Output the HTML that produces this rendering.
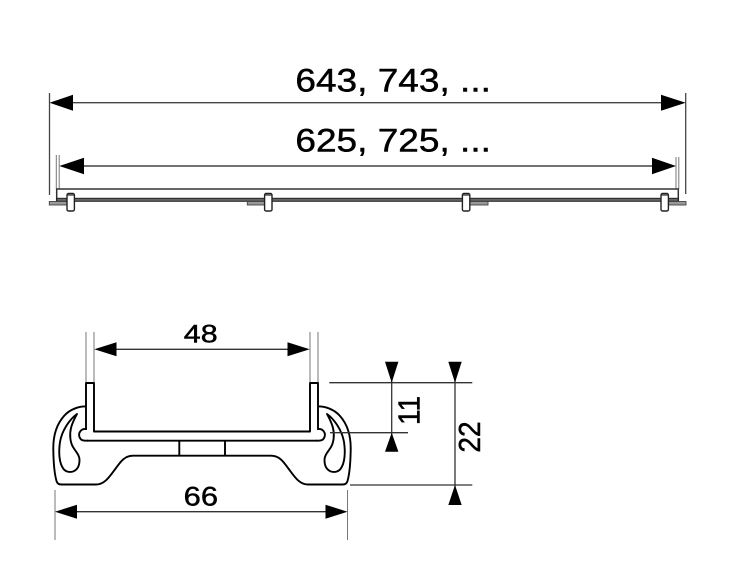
<!DOCTYPE html>
<html>
<head>
<meta charset="utf-8">
<style>
  html,body{margin:0;padding:0;background:#fff;}
  svg{display:block;}
  text{font-family:"Liberation Sans",Arial,sans-serif;fill:#000;stroke:#000;stroke-width:0.45;}
</style>
</head>
<body>
<svg width="734" height="580" viewBox="0 0 734 580" xmlns="http://www.w3.org/2000/svg">
  <rect x="0" y="0" width="734" height="580" fill="#fff"/>

  <!-- ===== TOP VIEW ===== -->
  <text x="295.4" y="91.5" font-size="32" textLength="195.5" lengthAdjust="spacingAndGlyphs">643, 743, ...</text>
  <text x="295.4" y="151.5" font-size="32" textLength="195.5" lengthAdjust="spacingAndGlyphs">625, 725, ...</text>

  <!-- outer extension lines -->
  <line x1="49.5" y1="93" x2="49.5" y2="195" stroke="#444" stroke-width="1.3"/>
  <line x1="685.7" y1="93" x2="685.7" y2="194" stroke="#444" stroke-width="1.3"/>
  <!-- inner extension lines -->
  <line x1="56.3" y1="155" x2="56.3" y2="189" stroke="#777" stroke-width="1"/>
  <line x1="59.2" y1="155" x2="59.2" y2="189" stroke="#777" stroke-width="1"/>
  <line x1="676" y1="157" x2="676" y2="189" stroke="#777" stroke-width="1"/>
  <line x1="678.8" y1="157" x2="678.8" y2="189" stroke="#777" stroke-width="1"/>

  <!-- dimension line 643 -->
  <line x1="60" y1="102.7" x2="675" y2="102.7" stroke="#444" stroke-width="1.4"/>
  <polygon points="49.5,102.7 73,94.7 73,110.7" fill="#000"/>
  <polygon points="685.7,102.7 661,94.7 661,110.7" fill="#000"/>

  <!-- dimension line 625 -->
  <line x1="70" y1="166" x2="665" y2="166" stroke="#444" stroke-width="1.4"/>
  <polygon points="59.3,166 84,157.7 84,174.3" fill="#000"/>
  <polygon points="676,166 652,157.7 652,174.3" fill="#000"/>

  <!-- cover plate -->
  <line x1="56.7" y1="189" x2="678.3" y2="189" stroke="#333" stroke-width="1.5"/>
  <line x1="56.7" y1="188.3" x2="56.7" y2="201" stroke="#333" stroke-width="1.5"/>
  <line x1="678.3" y1="188.3" x2="678.3" y2="201" stroke="#333" stroke-width="1.5"/>
  <rect x="56.7" y="198.3" width="621.6" height="3" fill="#666" stroke="#222" stroke-width="1"/>

  <!-- stubs -->
  <rect x="49.3" y="201.5" width="17.7" height="3.5" fill="#999" stroke="#444" stroke-width="0.9"/>
  <rect x="247.3" y="201.5" width="17.5" height="3.5" fill="#999" stroke="#444" stroke-width="0.9"/>
  <rect x="469.5" y="201.5" width="18.5" height="3.5" fill="#999" stroke="#444" stroke-width="0.9"/>
  <rect x="668.3" y="201.5" width="17.7" height="3.5" fill="#999" stroke="#444" stroke-width="0.9"/>

  <!-- clips -->
  <g fill="#fff" stroke="#222" stroke-width="1.4">
    <rect x="67" y="193.5" width="7.4" height="17.5" rx="1.5"/>
    <rect x="264.6" y="193.5" width="7.4" height="17.5" rx="1.5"/>
    <rect x="462.4" y="193.5" width="7.4" height="17.5" rx="1.5"/>
    <rect x="661" y="193.5" width="7.4" height="17.5" rx="1.5"/>
  </g>
  <g stroke="#444" stroke-width="1.4">
    <line x1="67.5" y1="195" x2="73.9" y2="195"/>
    <line x1="265.1" y1="195" x2="271.5" y2="195"/>
    <line x1="462.9" y1="195" x2="469.3" y2="195"/>
    <line x1="661.5" y1="195" x2="667.9" y2="195"/>
  </g>

  <!-- ===== SECTION VIEW ===== -->
  <text x="183.8" y="342.5" font-size="25" textLength="33.8" lengthAdjust="spacingAndGlyphs">48</text>
  <text x="183.7" y="505.5" font-size="27" textLength="34.4" lengthAdjust="spacingAndGlyphs">66</text>

  <!-- 48 extension lines -->
  <g stroke="#777" stroke-width="1">
    <line x1="86" y1="332" x2="86" y2="382"/>
    <line x1="94" y1="332" x2="94" y2="382"/>
    <line x1="310" y1="332" x2="310" y2="382"/>
    <line x1="318" y1="332" x2="318" y2="382"/>
  </g>
  <line x1="100" y1="349.3" x2="304" y2="349.3" stroke="#333" stroke-width="1.4"/>
  <polygon points="94.3,349.3 116.5,342.3 116.5,356.3" fill="#000"/>
  <polygon points="309.7,349.3 287.5,342.3 287.5,356.3" fill="#000"/>

  <!-- 66 extension lines -->
  <g stroke="#777" stroke-width="1">
    <line x1="55" y1="490" x2="55" y2="540"/>
    <line x1="347.5" y1="490" x2="347.5" y2="540"/>
  </g>
  <line x1="62" y1="511.7" x2="340" y2="511.7" stroke="#333" stroke-width="1.4"/>
  <polygon points="55,511.7 77,504.7 77,518.7" fill="#000"/>
  <polygon points="347.5,511.7 325.5,504.7 325.5,518.7" fill="#000"/>

  <!-- profile drawing -->
  <g fill="none" stroke="#000" stroke-width="1.9" stroke-linejoin="round">
    <polyline points="86,430 86,383 94,383 94,431.5 310,431.5 310,383 318,383 318,430"/>
    <line x1="87" y1="440.7" x2="317" y2="440.7"/>
    <path d="M86,429 C81,428.5 78,433 79.5,437 C81,441 84,440.7 88,440.7"/>
    <path d="M318,429 C323,428.5 326,433 324.5,437 C323,441 320,440.7 316,440.7"/>
    <path d="M86,406.5 C80,406 70,409 64,416 C56,425 53,437 53.3,450 C53.5,462 54.5,474 56.5,481 C57.5,484 59,484.5 62,484.5 L96,484.5 C105,484.5 110,476 116,468 C121,461 125,455.7 133,455.7 L271,455.7 C279,455.7 283,461 288,468 C294,476 299,484.5 308,484.5 L342,484.5 C345,484.5 346.5,484 347.5,481 C349.5,474 350.5,462 350.7,450 C351,437 348,425 340,416 C334,409 324,406 318,406.5"/>
    <path d="M77,414 C70,419 62,430 60,442 C58.5,452 59,463 63.5,469 C66,472 70,472.5 73,471.5 C77,470 79.5,466 79.5,460 C79.5,455 76,452 73,447 C70,442 69.5,434 71,428 C72.5,422 75,418 77,414 Z"/>
    <path d="M327,414 C334,419 342,430 344,442 C345.5,452 345,463 340.5,469 C338,472 334,472.5 331,471.5 C327,470 324.5,466 324.5,460 C324.5,455 328,452 331,447 C334,442 334.5,434 333,428 C331.5,422 329,418 327,414 Z"/>
    <line x1="179.3" y1="440.7" x2="179.3" y2="455.7"/>
    <line x1="225" y1="440.7" x2="225" y2="455.7"/>
  </g>

  <!-- right side dimensions -->
  <g stroke="#333" stroke-width="1.3">
    <line x1="329.3" y1="382.7" x2="472.3" y2="382.7"/>
    <line x1="330" y1="432.7" x2="408" y2="432.7"/>
    <line x1="350" y1="485" x2="472.3" y2="485"/>
    <line x1="391.7" y1="362" x2="391.7" y2="451"/>
    <line x1="455" y1="362" x2="455" y2="504"/>
  </g>
  <polygon points="391.7,382.7 385,361.7 398.4,361.7" fill="#000"/>
  <polygon points="391.7,432.7 385,451.7 398.4,451.7" fill="#000"/>
  <polygon points="455,382.7 448.3,361.7 461.7,361.7" fill="#000"/>
  <polygon points="455,485 448.3,505 461.7,505" fill="#000"/>

  <text transform="translate(419.5,410.5) rotate(-90) scale(1,1.1)" font-size="28" text-anchor="middle">11</text>
  <text transform="translate(480,437) rotate(-90) scale(1,1.1)" font-size="28" text-anchor="middle">22</text>
</svg>
</body>
</html>
